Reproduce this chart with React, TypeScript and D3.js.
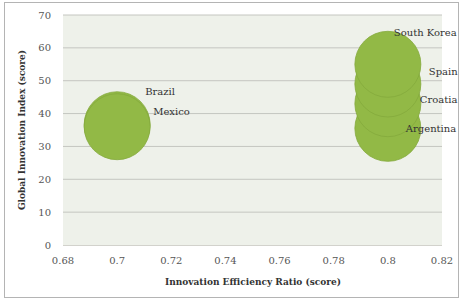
import React from 'react';
import * as d3 from 'd3';

// chart values
const countries = ['Brazil', 'Mexico', 'Argentina', 'Croatia', 'Spain', 'South Korea'];
const efficiency = [0.7, 0.7, 0.8, 0.8, 0.8, 0.8];
const giiScore = [36.6, 36.0, 35.5, 43.0, 49.0, 55.0];
const bubbleSize = [1, 1, 1, 1, 1, 1];
const xTicks = [0.68, 0.7, 0.72, 0.74, 0.76, 0.78, 0.8, 0.82];
const yTicks = [0, 10, 20, 30, 40, 50, 60, 70];

// hand placed data labels (offset from bubble centre)
const labelOffset: [number, number][] = [
    [28, -30], [36, -12], [18, 4], [32, -1], [41, -9], [6, -28]
];

const W = 461, H = 300;
const margin = { top: 15, right: 19, bottom: 55, left: 63 };
const font = '"DejaVu Serif", serif';

const App = () => {
    const x = d3.scaleLinear().domain([0.68, 0.82]).range([margin.left, W - margin.right]);
    const y = d3.scaleLinear().domain([0, 70]).range([H - margin.bottom, margin.top]);
    const r = d3.scaleSqrt().domain([0, d3.max(bubbleSize) as number]).range([0, 33]);

    const fmtX = (d: number) => String(+d.toFixed(2));

    return (
        <div style={{ position: 'absolute', left: 0, top: 0 }}>
            <svg width={W} height={H} style={{ display: 'block', background: '#fff' }}>
                <rect x={4.5} y={2.5} width={454} height={295} fill="#fff" stroke="#b4b4b4" />
                <rect x={x(0.68)} y={y(70)} width={x(0.82) - x(0.68)} height={y(0) - y(70)} fill="#eef1ea" />

                {yTicks.filter(t => t > 0).map(t => (
                    <line key={t} x1={x(0.68)} x2={x(0.82)} y1={y(t)} y2={y(t)} stroke="#c4c6c0" />
                ))}
                <line x1={x(0.68)} x2={x(0.82)} y1={y(0) + 0.5} y2={y(0) + 0.5} stroke="#d2d2cc" />

                {yTicks.map(t => (
                    <text key={t} x={51} y={y(t) + 3.5} textAnchor="end" fontFamily={font} fontSize={10} fill="#555">
                        {t}
                    </text>
                ))}
                {xTicks.map(t => (
                    <text key={t} x={x(t)} y={264} textAnchor="middle" fontFamily={font} fontSize={10} fill="#555">
                        {fmtX(t)}
                    </text>
                ))}

                {countries.map((c, i) => (
                    <circle key={c} cx={x(efficiency[i])} cy={y(giiScore[i])} r={r(bubbleSize[i])}
                        fill="#92b946" stroke="#84aa3c" strokeWidth={0.8} />
                ))}

                {countries.map((c, i) => (
                    <text key={c} x={x(efficiency[i]) + labelOffset[i][0]} y={y(giiScore[i]) + labelOffset[i][1]}
                        fontFamily={font} fontSize={10} fill="#333">
                        {c}
                    </text>
                ))}

                <text x={253} y={285} textAnchor="middle" fontFamily={font} fontSize={9} fontWeight="bold" fill="#333">
                    Innovation Efficiency Ratio (score)
                </text>
                <text transform={`translate(25,${(y(0) + y(70)) / 2}) rotate(-90)`} textAnchor="middle"
                    fontFamily={font} fontSize={9} fontWeight="bold" fill="#333">
                    Global Innovation Index (score)
                </text>
            </svg>
        </div>
    );
};

export default App;
